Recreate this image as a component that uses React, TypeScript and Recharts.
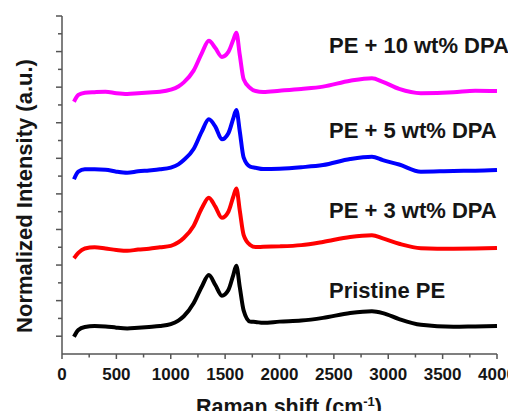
import { LineChart, Line, XAxis, YAxis } from 'recharts'

const FONT = '"Liberation Sans", Arial, sans-serif'
const AXIS = '#555'
const TEXT = '#151515'

// Raman shift (cm-1), shared by all spectra
const ramanShift = [
  110, 150, 210, 300, 400, 500, 600, 700, 800, 900, 1000, 1070, 1120, 1210, 1285, 1350,
  1410, 1470, 1530, 1575, 1603, 1635, 1670, 1730, 1780, 1850, 2000, 2200, 2400, 2650,
  2850, 2950, 3100, 3300, 3600, 3800, 4000,
]

// normalized intensity, already stacked with the offsets of the figure
const pristine = [
  0.97, 1.35, 1.52, 1.57, 1.55, 1.48, 1.44, 1.48, 1.52, 1.57, 1.68, 1.88, 2.12, 2.85, 3.78, 4.44,
  3.88, 3.28, 3.6, 4.44, 4.96, 3.75, 2.45, 1.82, 1.8, 1.75, 1.82, 1.88, 2.03, 2.3,
  2.4, 2.3, 1.96, 1.64, 1.53, 1.55, 1.57,
]
const dpa3 = [
  5.38, 5.68, 5.93, 6.0, 5.93, 5.85, 5.8, 5.87, 5.92, 6.0, 6.08, 6.28, 6.52, 7.2, 8.19, 8.79,
  8.28, 7.66, 8.0, 8.84, 9.31, 8.05, 6.7, 6.13, 6.01, 6.03, 6.05, 6.12, 6.3, 6.58,
  6.67, 6.5, 6.2, 5.95, 5.92, 5.93, 5.96,
]
const dpa5 = [
  9.82, 10.25, 10.38, 10.38, 10.36, 10.25, 10.19, 10.27, 10.32, 10.38, 10.48, 10.66, 10.9, 11.52, 12.5, 13.19,
  12.78, 12.07, 12.41, 13.25, 13.72, 12.5, 11.05, 10.53, 10.47, 10.4, 10.42, 10.5, 10.62, 10.96,
  11.09, 10.9, 10.65, 10.25, 10.29, 10.3, 10.34,
]
const dpa10 = [
  14.18, 14.56, 14.69, 14.72, 14.74, 14.66, 14.62, 14.66, 14.7, 14.74, 14.86, 15.04, 15.27, 15.93, 16.9, 17.61,
  17.2, 16.7, 16.98, 17.65, 18.06, 16.8, 15.45, 14.95, 14.78, 14.73, 14.8, 14.9, 15.03, 15.36,
  15.5, 15.3, 14.9, 14.66, 14.71, 14.8, 14.78,
]

const xTicks = [0, 250, 500, 750, 1000, 1250, 1500, 1750, 2000, 2250, 2500, 2750, 3000, 3250, 3500, 3750, 4000]
const yTicks = [0, 1, 2, 3, 4, 5, 6, 7, 8, 9, 10, 11, 12, 13, 14, 15, 16, 17, 18, 19]

const seriesLabels = [
  { text: 'PE + 10 wt% DPA', y: 45.5 },
  { text: 'PE + 5 wt% DPA', y: 130.5 },
  { text: 'PE + 3 wt% DPA', y: 210.5 },
  { text: 'Pristine PE', y: 290.5 },
]

const data = ramanShift.map((x, i) => ({
  x,
  pristine: pristine[i],
  dpa3: dpa3[i],
  dpa5: dpa5[i],
  dpa10: dpa10[i],
}))

function XTick(props: any) {
  const { x, y, payload } = props
  const major = payload.value % 500 === 0
  return (
    <g>
      <line x1={x} x2={x} y1={y} y2={y + (major ? 5 : 3.5)} stroke={AXIS} strokeWidth={1.5} />
      {major && (
        <text x={x} y={y + 26} textAnchor="middle" fontFamily={FONT} fontWeight="bold" fontSize={17} fill={TEXT}>
          {payload.value}
        </text>
      )}
    </g>
  )
}

function YTick(props: any) {
  const { x, y, payload } = props
  if (payload.value === 0) return <g />
  const major = payload.value % 2 === 1
  return <line x1={x - (major ? 6 : 4)} x2={x} y1={y} y2={y} stroke={AXIS} strokeWidth={1.5} />
}

export default function App() {
  // negative margin cancels the body margin so the chart uses page coordinates
  return (
    <div style={{ position: 'relative', width: 516, height: 419, margin: -8 }}>
      <LineChart width={516} height={419} data={data} margin={{ top: 16, right: 19, bottom: 0, left: 0 }}>
        <XAxis
          dataKey="x"
          type="number"
          domain={[0, 4000]}
          ticks={xTicks}
          interval={0}
          height={65}
          tickSize={0}
          tickMargin={0}
          tickLine={false}
          axisLine={{ stroke: AXIS, strokeWidth: 1.5 }}
          tick={<XTick />}
        />
        <YAxis
          type="number"
          domain={[0, 19]}
          ticks={yTicks}
          interval={0}
          width={62}
          tickSize={0}
          tickMargin={0}
          tickLine={false}
          axisLine={{ stroke: AXIS, strokeWidth: 1.5 }}
          tick={<YTick />}
        />
        <Line type="monotone" dataKey="pristine" stroke="#000000" strokeWidth={4} dot={false} isAnimationActive={false} />
        <Line type="monotone" dataKey="dpa3" stroke="#ff0000" strokeWidth={4} dot={false} isAnimationActive={false} />
        <Line type="monotone" dataKey="dpa5" stroke="#0000ff" strokeWidth={4} dot={false} isAnimationActive={false} />
        <Line type="monotone" dataKey="dpa10" stroke="#ff00ff" strokeWidth={4} dot={false} isAnimationActive={false} />
      </LineChart>
      <svg width={516} height={419} style={{ position: 'absolute', left: 0, top: 0, pointerEvents: 'none' }}>
        {seriesLabels.map((l) => (
          <text key={l.text} x={329} y={l.y + 7.9} fontFamily={FONT} fontWeight="bold" fontSize={22} fill={TEXT}>
            {l.text}
          </text>
        ))}
        <text
          x={24}
          y={196}
          transform="rotate(-90 24 196)"
          textAnchor="middle"
          dominantBaseline="central"
          fontFamily={FONT}
          fontWeight="bold"
          fontSize={22}
          fill={TEXT}
        >
          Normalized Intensity (a.u.)
        </text>
        <text x={289} y={414} textAnchor="middle" fontFamily={FONT} fontWeight="bold" fontSize={21.5} fill={TEXT}>
          Raman shift (cm<tspan dy={-8} fontSize={13}>-1</tspan><tspan dy={8}>)</tspan>
        </text>
      </svg>
    </div>
  )
}
